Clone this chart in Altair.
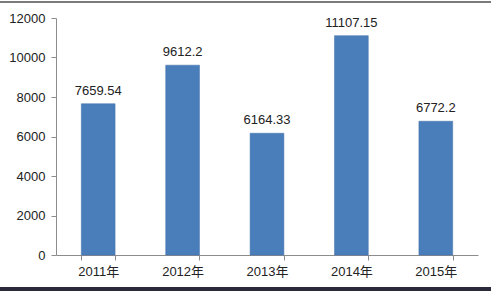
import altair as alt
import pandas as pd

years = ["2011年", "2012年", "2013年", "2014年", "2015年"]
values = [7659.54, 9612.2, 6164.33, 11107.15, 6772.2]
labels = ["7659.54", "9612.2", "6164.33", "11107.15", "6772.2"]
y_ticks = [0, 2000, 4000, 6000, 8000, 10000, 12000]

df = pd.DataFrame({"year": years, "value": values, "label": labels})

FONT = "Liberation Sans, Noto Sans CJK SC"

x = alt.X("year:N", sort=years, title=None,
          scale=alt.Scale(paddingInner=0.6, paddingOuter=0.3),
          axis=alt.Axis(labelAngle=0, tickBand="extent", labelPadding=5))
y = alt.Y("value:Q", title=None,
          scale=alt.Scale(domain=[0, 12000], nice=False),
          axis=alt.Axis(values=y_ticks, grid=False, labelPadding=6, format="d"))

bars = alt.Chart(df).mark_bar(color="#4a7ebb", stroke="#3f6fa8", strokeWidth=0.5).encode(x=x, y=y)
text = alt.Chart(df).mark_text(baseline="bottom", dy=-6, fontSize=13, font=FONT,
                               color="#222222").encode(x=x, y=y, text="label:N")

top_border = alt.Chart(df).mark_rule(color="#7a7a7a", strokeWidth=2).encode(
    x=alt.value(-56), x2=alt.value(435), y=alt.value(-16))
bottom_border = alt.Chart(df).mark_rule(color="#2a2a3a", strokeWidth=4).encode(
    x=alt.value(-56), x2=alt.value(435), y=alt.value(34 + 237))

chart = alt.layer(bars, text, top_border, bottom_border).properties(
    width=422, height=237,
    padding={"left": 56, "top": 18, "right": 13, "bottom": 38},
    autosize=alt.AutoSizeParams(type="none"),
    background="white",
).configure_view(stroke=None).configure_axis(
    labelOverlap=False, domainColor="#8c8c8c", tickColor="#8c8c8c", tickSize=5,
    labelFontSize=13, labelColor="#222222", labelFont=FONT, grid=False,
)

chart.save("out.html", embed_options={"renderer": "svg", "actions": False})
